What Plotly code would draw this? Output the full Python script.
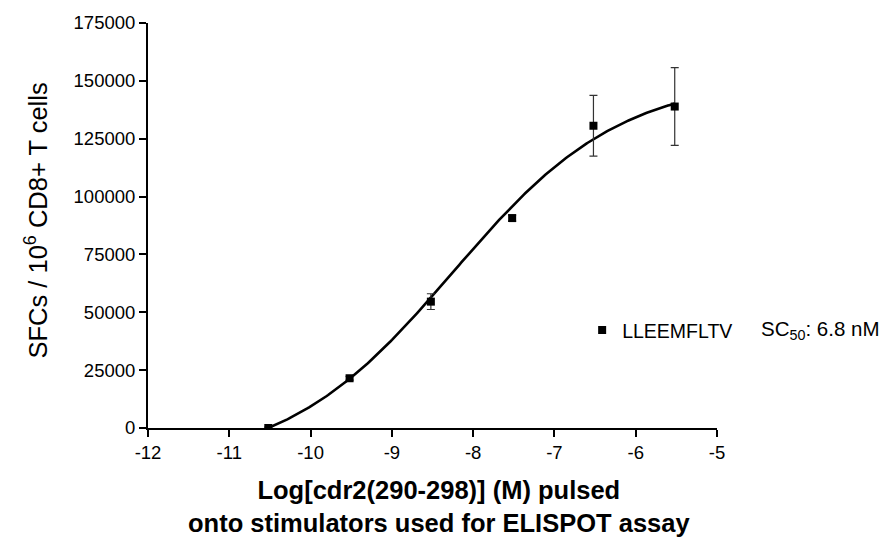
import numpy as np
import plotly.graph_objects as go

# Data
log_conc = [-10.52, -9.52, -8.52, -7.52, -6.52, -5.52]
sfcs = [0, 21500, 54600, 90700, 130600, 138900]
sfcs_err = [400, 800, 3400, 1300, 13100, 16800]

# Sigmoidal dose-response fit parameters
fit_bottom = -16860
fit_top = 151410
fit_logec50 = -8.25
fit_hill = 0.42

x_ticks = [-12, -11, -10, -9, -8, -7, -6, -5]
y_ticks = [0, 25000, 50000, 75000, 100000, 125000, 150000, 175000]

xs = np.linspace(min(log_conc), max(log_conc), 300)
ys = fit_bottom + (fit_top - fit_bottom) / (1 + 10 ** ((fit_logec50 - xs) * fit_hill))

FONT = "Arial, Liberation Sans, Helvetica, sans-serif"

fig = go.Figure()
fig.add_trace(go.Scatter(
    x=xs, y=ys, mode="lines", line=dict(color="black", width=2.6),
    showlegend=False, hoverinfo="skip"))
fig.add_trace(go.Scatter(
    x=log_conc, y=sfcs, mode="markers", name="LLEEMFLTV",
    marker=dict(symbol="square", size=8, color="black"),
    error_y=dict(type="data", array=sfcs_err, visible=True,
                 color="#333333", thickness=1.2, width=4),
    showlegend=True))

fig.update_layout(
    width=887, height=550,
    margin=dict(l=148, r=170, t=21, b=122),
    paper_bgcolor="white", plot_bgcolor="white",
    font=dict(family=FONT, color="black", size=18),
    legend=dict(x=0.763, y=0.241, xanchor="left", yanchor="middle",
                font=dict(size=19.5, family=FONT), bgcolor="rgba(0,0,0,0)",
                itemwidth=30),
    xaxis=dict(range=[-12, -5], tickvals=x_ticks, ticktext=[str(v) for v in x_ticks],
               showgrid=False, zeroline=False, showline=True, linecolor="black",
               linewidth=2, ticks="outside", ticklen=7, tickwidth=2, tickcolor="black",
               tickfont=dict(size=18.5)),
    yaxis=dict(range=[0, 175000], tickvals=y_ticks, ticktext=[str(v) for v in y_ticks],
               showgrid=False, zeroline=False, showline=True, linecolor="black",
               linewidth=2, ticks="outside", ticklen=7, tickwidth=2, tickcolor="black",
               tickfont=dict(size=18.5)),
    annotations=[
        dict(text="SFCs / 10<sup>6</sup> CD8+ T cells", xref="paper", yref="paper",
             x=0, y=0.5, xshift=-112, yshift=5, textangle=-90, showarrow=False,
             xanchor="center", yanchor="middle", font=dict(size=25.5, family=FONT)),
        dict(text="<b>Log[cdr2(290-298)] (M) pulsed<br>onto stimulators used for ELISPOT assay</b>",
             xref="paper", yref="paper", x=0.511, y=0, yshift=-78, showarrow=False,
             xanchor="center", yanchor="middle", align="center",
             font=dict(size=25.5, family=FONT)),
        dict(text="SC<sub>50</sub>: 6.8 nM", xref="paper", yref="paper",
             x=1.074, y=0.241, showarrow=False, xanchor="left", yanchor="middle",
             font=dict(size=20.5, family=FONT)),
    ],
)

fig.write_html("out.html")
